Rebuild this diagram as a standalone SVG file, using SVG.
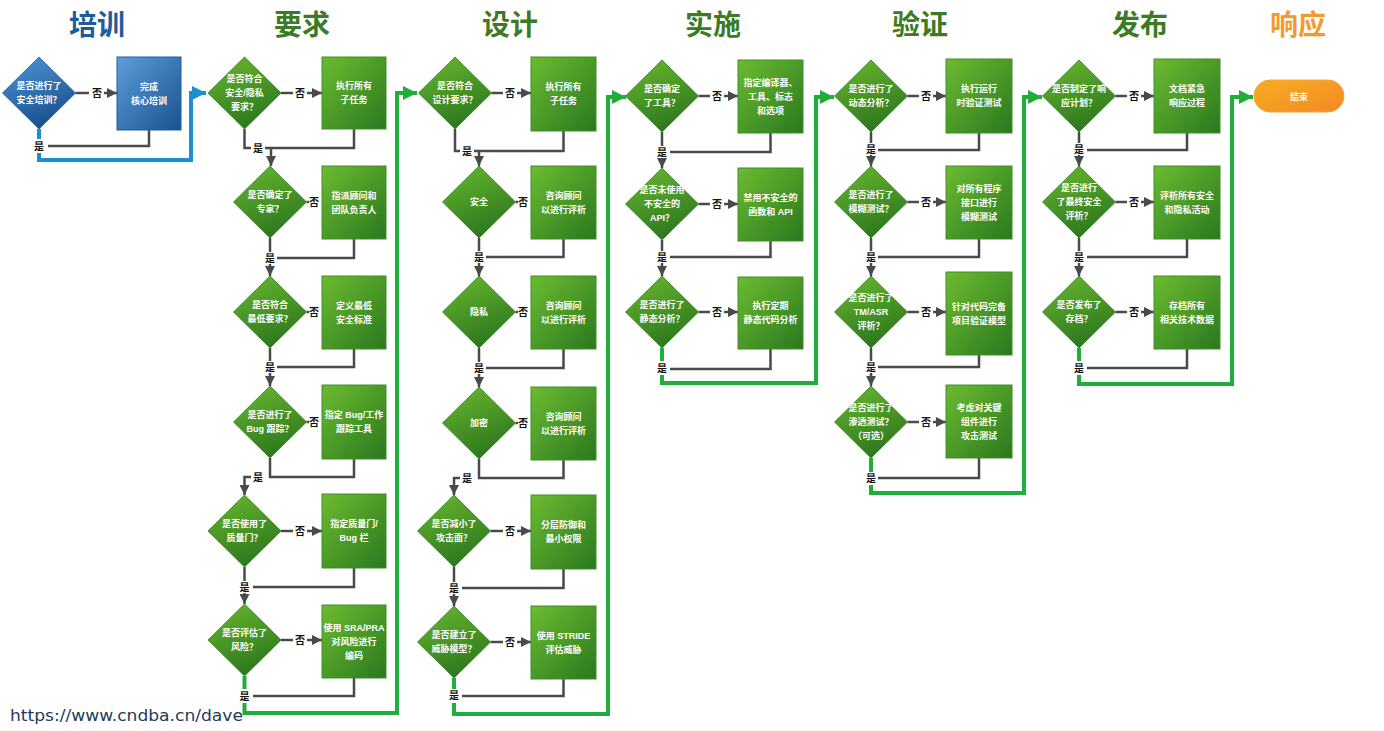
<svg xmlns="http://www.w3.org/2000/svg" width="1384" height="731" viewBox="0 0 1384 731">
<defs>
<linearGradient id="gBox" x1="0" y1="0" x2="1" y2="1"><stop offset="0" stop-color="#6cbb30"/><stop offset="1" stop-color="#2a781e"/></linearGradient>
<linearGradient id="gDia" x1="0.2" y1="0" x2="0.6" y2="1"><stop offset="0" stop-color="#66b52e"/><stop offset="1" stop-color="#2b751d"/></linearGradient>
<linearGradient id="bBox" x1="0" y1="0" x2="1" y2="1"><stop offset="0" stop-color="#5d9edb"/><stop offset="1" stop-color="#18528f"/></linearGradient>
<linearGradient id="bDia" x1="0.2" y1="0" x2="0.6" y2="1"><stop offset="0" stop-color="#4d93d4"/><stop offset="1" stop-color="#164d8a"/></linearGradient>
<linearGradient id="oPill" x1="0" y1="0" x2="1" y2="1"><stop offset="0" stop-color="#f9ad22"/><stop offset="1" stop-color="#f08a22"/></linearGradient>
<marker id="aGray" markerUnits="userSpaceOnUse" markerWidth="10" markerHeight="10" viewBox="0 0 10 10" refX="10" refY="5" orient="auto"><path d="M0,0 L10,5 L0,10 Z" fill="#4a4a4a"/></marker>
<marker id="aGreen" markerUnits="userSpaceOnUse" markerWidth="14" markerHeight="14" viewBox="0 0 10 10" refX="10" refY="5" orient="auto"><path d="M0,0 L10,5 L0,10 Z" fill="#1fae3c"/></marker>
<marker id="aBlue" markerUnits="userSpaceOnUse" markerWidth="14" markerHeight="14" viewBox="0 0 10 10" refX="10" refY="5" orient="auto"><path d="M0,0 L10,5 L0,10 Z" fill="#1b8fd0"/></marker>
</defs>
<style>
.title{font-family:'Noto Sans CJK SC','Liberation Sans',sans-serif;font-size:28px;font-weight:bold;text-anchor:middle}
.tb{fill:#1e5c9c}.tg{fill:#3c7b24}.to{fill:#f39a2b}
.dia{fill:url(#gDia);stroke:#2f7d22;stroke-width:0.8}
.box{fill:url(#gBox);stroke:#3f8f28;stroke-width:1}
.bdia{fill:url(#bDia);stroke:#1b5a98;stroke-width:0.8}
.bbox{fill:url(#bBox);stroke:#1f5f9f;stroke-width:1}
.nt{font-family:'Liberation Sans','Noto Sans CJK SC',sans-serif;font-size:9px;font-weight:bold;fill:#ffffff;text-anchor:middle}
.lb{font-family:'Noto Sans CJK SC','Liberation Sans',sans-serif;font-size:10px;font-weight:bold;fill:#111111;text-anchor:middle}
.ln{fill:none;stroke:#4a4a4a;stroke-width:2.5}
.ar{fill:none;stroke:#4a4a4a;stroke-width:2.5;marker-end:url(#aGray)}
.gl{fill:none;stroke:#1fae3c;stroke-width:4}
.ga{fill:none;stroke:#1fae3c;stroke-width:4;marker-end:url(#aGreen)}
.bl{fill:none;stroke:#1b8fd0;stroke-width:4}
.ba{fill:none;stroke:#1b8fd0;stroke-width:4;marker-end:url(#aBlue)}
</style>
<rect width="1384" height="731" fill="#ffffff"/>

<g id="titles">
<text class="title tb" x="97" y="35">培训</text>
<text class="title tg" x="302" y="35">要求</text>
<text class="title tg" x="510" y="35">设计</text>
<text class="title tg" x="713" y="35">实施</text>
<text class="title tg" x="920" y="35">验证</text>
<text class="title tg" x="1140" y="35">发布</text>
<text class="title to" x="1298" y="35">响应</text>
</g>

<g id="connectors">
<!-- training -->
<path class="ln" d="M75.5 93 H89"/><text class="lb" x="97" y="96.5">否</text><path class="ar" d="M104 93 H117"/>
<path class="ln" d="M149 130 V146 H48"/><text class="lb" x="39" y="149.5">是</text>
<path class="bl" d="M39 129 V139"/><path class="ba" d="M39 153 V160 H191 V93 H206"/>
<!-- requirements -->
<path class="ln" d="M281 93 H293"/><text class="lb" x="300" y="96.5">否</text><path class="ar" d="M307 93 H322"/>
<path class="ln" d="M244.5 129 V148 H251"/><text class="lb" x="258" y="151.5">是</text><path class="ln" d="M265 148 H354 V129"/><path class="ar" d="M271 148 V166"/>
<path class="ln" d="M306.5 202 H309"/><text class="lb" x="314" y="205.5">否</text>
<path class="ln" d="M270 238 V252"/><text class="lb" x="270" y="261.5">是</text><path class="ar" d="M270 264 V276"/><path class="ln" d="M277 258 H354 V239"/>
<path class="ln" d="M306.5 312 H309"/><text class="lb" x="314" y="315.5">否</text>
<path class="ln" d="M270 348 V361"/><text class="lb" x="270" y="370.5">是</text><path class="ar" d="M270 373 V386"/><path class="ln" d="M277 367 H354 V349"/>
<path class="ln" d="M306.5 422 H309"/><text class="lb" x="314" y="425.5">否</text>
<path class="ln" d="M270 458 V477 H354 V459"/><text class="lb" x="258" y="480.5">是</text><path class="ar" d="M251 477 H244.5 V495"/>
<path class="ln" d="M281 531 H293"/><text class="lb" x="300" y="534.5">否</text><path class="ar" d="M307 531 H322"/>
<path class="ln" d="M244.5 567 V581"/><text class="lb" x="244.5" y="590.5">是</text><path class="ar" d="M244.5 593 V604"/><path class="ln" d="M253 587 H354 V568"/>
<path class="ln" d="M281 640 H293"/><text class="lb" x="300" y="643.5">否</text><path class="ar" d="M307 640 H322"/>
<text class="lb" x="244.5" y="699.5">是</text><path class="ln" d="M253 696 H354 V678"/>
<path class="gl" d="M244.5 676 V689"/><path class="ga" d="M244.5 703 V713 H397 V93 H417"/>
<!-- design -->
<path class="ln" d="M491.5 93 H503"/><text class="lb" x="510" y="96.5">否</text><path class="ar" d="M517 93 H531"/>
<path class="ln" d="M455 129 V151 H460"/><text class="lb" x="467" y="154.5">是</text><path class="ln" d="M474 151 H563.5 V131"/><path class="ar" d="M479 151 V166"/>
<path class="ln" d="M515.5 202 H518"/><text class="lb" x="523" y="205.5">否</text>
<path class="ln" d="M479 238 V251"/><text class="lb" x="479" y="260.5">是</text><path class="ar" d="M479 263 V276"/><path class="ln" d="M486 257 H563.5 V239"/>
<path class="ln" d="M515.5 312 H518"/><text class="lb" x="523" y="315.5">否</text>
<path class="ln" d="M479 348 V362"/><text class="lb" x="479" y="371.5">是</text><path class="ar" d="M479 374 V387"/><path class="ln" d="M486 368 H563.5 V349"/>
<path class="ln" d="M515.5 423 H518"/><text class="lb" x="523" y="426.5">否</text>
<path class="ln" d="M479 459 V478 H563.5 V460"/><text class="lb" x="467" y="481.5">是</text><path class="ar" d="M460 478 H454 V495"/>
<path class="ln" d="M490.5 531 H503"/><text class="lb" x="510" y="534.5">否</text><path class="ar" d="M517 531 H531"/>
<path class="ln" d="M454 567 V582"/><text class="lb" x="454" y="591.5">是</text><path class="ar" d="M454 594 V606"/><path class="ln" d="M462 588 H563.5 V569"/>
<path class="ln" d="M490.5 642 H503"/><text class="lb" x="510" y="645.5">否</text><path class="ar" d="M517 642 H531"/>
<text class="lb" x="454" y="698.5">是</text><path class="ln" d="M462 696 H563.5 V679"/>
<path class="gl" d="M454 678 V689"/><path class="ga" d="M454 703 V714 H608 V97 H626"/>
<!-- implementation -->
<path class="ln" d="M698.5 96 H710"/><text class="lb" x="717" y="99.5">否</text><path class="ar" d="M724 96 H738"/>
<path class="ln" d="M662 132 V146"/><text class="lb" x="662" y="155.5">是</text><path class="ar" d="M662 158 V168"/><path class="ln" d="M670 152 H770.5 V133"/>
<path class="ln" d="M698.5 204 H710"/><text class="lb" x="717" y="207.5">否</text><path class="ar" d="M724 204 H738"/>
<path class="ln" d="M662 240 V251"/><text class="lb" x="662" y="260.5">是</text><path class="ar" d="M662 263 V276"/><path class="ln" d="M670 257 H770.5 V241"/>
<path class="ln" d="M698.5 312 H710"/><text class="lb" x="717" y="315.5">否</text><path class="ar" d="M724 312 H738"/>
<text class="lb" x="662" y="371.5">是</text><path class="ln" d="M670 369 H770.5 V349"/>
<path class="gl" d="M662 348 V361"/><path class="ga" d="M662 375 V383 H816 V97 H834"/>
<!-- verification -->
<path class="ln" d="M907.5 96 H919"/><text class="lb" x="926" y="99.5">否</text><path class="ar" d="M933 96 H946"/>
<path class="ln" d="M871 132 V143"/><text class="lb" x="871" y="152.5">是</text><path class="ar" d="M871 155 V166"/><path class="ln" d="M878 150 H979 V133"/>
<path class="ln" d="M907.5 202 H919"/><text class="lb" x="926" y="205.5">否</text><path class="ar" d="M933 202 H946"/>
<path class="ln" d="M871 238 V251"/><text class="lb" x="871" y="260.5">是</text><path class="ar" d="M871 263 V276"/><path class="ln" d="M878 257 H979 V239"/>
<path class="ln" d="M907.5 312 H919"/><text class="lb" x="926" y="315.5">否</text><path class="ar" d="M933 312 H946"/>
<path class="ln" d="M871 348 V361"/><text class="lb" x="871" y="370.5">是</text><path class="ar" d="M871 373 V386"/><path class="ln" d="M878 367 H979 V355"/>
<path class="ln" d="M907.5 422 H919"/><text class="lb" x="926" y="425.5">否</text><path class="ar" d="M933 422 H946"/>
<text class="lb" x="871" y="481.5">是</text><path class="ln" d="M878 478 H979 V458"/>
<path class="gl" d="M871 458 V472"/><path class="ga" d="M871 485 V493 H1024 V97 H1042"/>
<!-- release -->
<path class="ln" d="M1115.5 96 H1127"/><text class="lb" x="1134" y="99.5">否</text><path class="ar" d="M1141 96 H1154"/>
<path class="ln" d="M1079 132 V143"/><text class="lb" x="1079" y="152.5">是</text><path class="ar" d="M1079 155 V166"/><path class="ln" d="M1087 150 H1187 V133"/>
<path class="ln" d="M1115.5 202 H1127"/><text class="lb" x="1134" y="205.5">否</text><path class="ar" d="M1141 202 H1154"/>
<path class="ln" d="M1079 238 V251"/><text class="lb" x="1079" y="260.5">是</text><path class="ar" d="M1079 263 V276"/><path class="ln" d="M1087 257 H1187 V239"/>
<path class="ln" d="M1115.5 312 H1127"/><text class="lb" x="1134" y="315.5">否</text><path class="ar" d="M1141 312 H1154"/>
<text class="lb" x="1079" y="371.5">是</text><path class="ln" d="M1087 368 H1187 V349"/>
<path class="gl" d="M1079 348 V361"/><path class="ga" d="M1079 375 V384 H1232 V97 H1253"/>
</g>

<!-- training -->
<g id="train-q"><polygon class="bdia" points="39,57 75.5,93 39,129 2.5,93"/><text class="nt" x="39" y="89">是否进行了</text><text class="nt" x="39" y="103">安全培训？</text></g>
<g id="train-do"><rect class="bbox" x="117" y="57" width="64" height="73"/><text class="nt" x="149" y="89.5">完成</text><text class="nt" x="149" y="103.5">核心培训</text></g>

<!-- requirements -->
<g id="req-q1"><polygon class="dia" points="244.5,57 281,93 244.5,129 208,93"/><text class="nt" x="244.5" y="82">是否符合</text><text class="nt" x="244.5" y="96">安全/隐私</text><text class="nt" x="244.5" y="110">要求？</text></g>
<g id="req-a1"><rect class="box" x="322" y="57" width="64" height="72"/><text class="nt" x="354" y="89">执行所有</text><text class="nt" x="354" y="103">子任务</text></g>
<g id="req-q2"><polygon class="dia" points="270,166 306.5,202 270,238 233.5,202"/><text class="nt" x="270" y="198">是否确定了</text><text class="nt" x="270" y="212">专家？</text></g>
<g id="req-a2"><rect class="box" x="322" y="166" width="64" height="73"/><text class="nt" x="354" y="198.5">指派顾问和</text><text class="nt" x="354" y="212.5">团队负责人</text></g>
<g id="req-q3"><polygon class="dia" points="270,276 306.5,312 270,348 233.5,312"/><text class="nt" x="270" y="308">是否符合</text><text class="nt" x="270" y="322">最低要求？</text></g>
<g id="req-a3"><rect class="box" x="322" y="276" width="64" height="73"/><text class="nt" x="354" y="308.5">定义最低</text><text class="nt" x="354" y="322.5">安全标准</text></g>
<g id="req-q4"><polygon class="dia" points="270,386 306.5,422 270,458 233.5,422"/><text class="nt" x="270" y="418">是否进行了</text><text class="nt" x="270" y="432">Bug 跟踪？</text></g>
<g id="req-a4"><rect class="box" x="322" y="385" width="64" height="74"/><text class="nt" x="354" y="418">指定 Bug/工作</text><text class="nt" x="354" y="432">跟踪工具</text></g>
<g id="req-q5"><polygon class="dia" points="244.5,495 281,531 244.5,567 208,531"/><text class="nt" x="244.5" y="527">是否使用了</text><text class="nt" x="244.5" y="541">质量门？</text></g>
<g id="req-a5"><rect class="box" x="322" y="494" width="64" height="74"/><text class="nt" x="354" y="527">指定质量门/</text><text class="nt" x="354" y="541">Bug 栏</text></g>
<g id="req-q6"><polygon class="dia" points="244.5,604 281,640 244.5,676 208,640"/><text class="nt" x="244.5" y="636">是否评估了</text><text class="nt" x="244.5" y="650">风险？</text></g>
<g id="req-a6"><rect class="box" x="322" y="605" width="64" height="73"/><text class="nt" x="354" y="630.5">使用 SRA/PRA</text><text class="nt" x="354" y="644.5">对风险进行</text><text class="nt" x="354" y="658.5">编码</text></g>

<!-- design -->
<g id="des-q1"><polygon class="dia" points="455,57 491.5,93 455,129 418.5,93"/><text class="nt" x="455" y="89">是否符合</text><text class="nt" x="455" y="103">设计要求？</text></g>
<g id="des-a1"><rect class="box" x="531" y="57" width="65" height="74"/><text class="nt" x="563.5" y="90">执行所有</text><text class="nt" x="563.5" y="104">子任务</text></g>
<g id="des-q2"><polygon class="dia" points="479,166 515.5,202 479,238 442.5,202"/><text class="nt" x="479" y="205">安全</text></g>
<g id="des-a2"><rect class="box" x="531" y="166" width="65" height="73"/><text class="nt" x="563.5" y="198.5">咨询顾问</text><text class="nt" x="563.5" y="212.5">以进行评析</text></g>
<g id="des-q3"><polygon class="dia" points="479,276 515.5,312 479,348 442.5,312"/><text class="nt" x="479" y="315">隐私</text></g>
<g id="des-a3"><rect class="box" x="531" y="276" width="65" height="73"/><text class="nt" x="563.5" y="308.5">咨询顾问</text><text class="nt" x="563.5" y="322.5">以进行评析</text></g>
<g id="des-q4"><polygon class="dia" points="479,387 515.5,423 479,459 442.5,423"/><text class="nt" x="479" y="426">加密</text></g>
<g id="des-a4"><rect class="box" x="531" y="387" width="65" height="73"/><text class="nt" x="563.5" y="419.5">咨询顾问</text><text class="nt" x="563.5" y="433.5">以进行评析</text></g>
<g id="des-q5"><polygon class="dia" points="454,495 490.5,531 454,567 417.5,531"/><text class="nt" x="454" y="527">是否减小了</text><text class="nt" x="454" y="541">攻击面？</text></g>
<g id="des-a5"><rect class="box" x="531" y="495" width="65" height="74"/><text class="nt" x="563.5" y="528">分层防御和</text><text class="nt" x="563.5" y="542">最小权限</text></g>
<g id="des-q6"><polygon class="dia" points="454,606 490.5,642 454,678 417.5,642"/><text class="nt" x="454" y="638">是否建立了</text><text class="nt" x="454" y="652">威胁模型？</text></g>
<g id="des-a6"><rect class="box" x="531" y="606" width="65" height="73"/><text class="nt" x="563.5" y="638.5">使用 STRIDE</text><text class="nt" x="563.5" y="652.5">评估威胁</text></g>

<!-- implementation -->
<g id="imp-q1"><polygon class="dia" points="662,60 698.5,96 662,132 625.5,96"/><text class="nt" x="662" y="92">是否确定</text><text class="nt" x="662" y="106">了工具？</text></g>
<g id="imp-a1"><rect class="box" x="738" y="60" width="65" height="73"/><text class="nt" x="770.5" y="85.5">指定编译器、</text><text class="nt" x="770.5" y="99.5">工具、标志</text><text class="nt" x="770.5" y="113.5">和选项</text></g>
<g id="imp-q2"><polygon class="dia" points="662,168 698.5,204 662,240 625.5,204"/><text class="nt" x="662" y="193">是否未使用</text><text class="nt" x="662" y="207">不安全的</text><text class="nt" x="662" y="221">API？</text></g>
<g id="imp-a2"><rect class="box" x="738" y="168" width="65" height="73"/><text class="nt" x="770.5" y="200.5">禁用不安全的</text><text class="nt" x="770.5" y="214.5">函数和 API</text></g>
<g id="imp-q3"><polygon class="dia" points="662,276 698.5,312 662,348 625.5,312"/><text class="nt" x="662" y="308">是否进行了</text><text class="nt" x="662" y="322">静态分析？</text></g>
<g id="imp-a3"><rect class="box" x="738" y="277" width="65" height="72"/><text class="nt" x="770.5" y="309">执行定期</text><text class="nt" x="770.5" y="323">静态代码分析</text></g>

<!-- verification -->
<g id="ver-q1"><polygon class="dia" points="871,60 907.5,96 871,132 834.5,96"/><text class="nt" x="871" y="92">是否进行了</text><text class="nt" x="871" y="106">动态分析？</text></g>
<g id="ver-a1"><rect class="box" x="946" y="59" width="66" height="74"/><text class="nt" x="979" y="92">执行运行</text><text class="nt" x="979" y="106">时验证测试</text></g>
<g id="ver-q2"><polygon class="dia" points="871,166 907.5,202 871,238 834.5,202"/><text class="nt" x="871" y="198">是否进行了</text><text class="nt" x="871" y="212">模糊测试？</text></g>
<g id="ver-a2"><rect class="box" x="946" y="166" width="66" height="73"/><text class="nt" x="979" y="191.5">对所有程序</text><text class="nt" x="979" y="205.5">接口进行</text><text class="nt" x="979" y="219.5">模糊测试</text></g>
<g id="ver-q3"><polygon class="dia" points="871,276 907.5,312 871,348 834.5,312"/><text class="nt" x="871" y="301">是否进行了</text><text class="nt" x="871" y="315">TM/ASR</text><text class="nt" x="871" y="329">评析？</text></g>
<g id="ver-a3"><rect class="box" x="946" y="272" width="66" height="83"/><text class="nt" x="979" y="309.5">针对代码完备</text><text class="nt" x="979" y="323.5">项目验证模型</text></g>
<g id="ver-q4"><polygon class="dia" points="871,386 907.5,422 871,458 834.5,422"/><text class="nt" x="871" y="411">是否进行了</text><text class="nt" x="871" y="425">渗透测试？</text><text class="nt" x="871" y="439">（可选）</text></g>
<g id="ver-a4"><rect class="box" x="946" y="385" width="66" height="73"/><text class="nt" x="979" y="410.5">考虑对关键</text><text class="nt" x="979" y="424.5">组件进行</text><text class="nt" x="979" y="438.5">攻击测试</text></g>

<!-- release -->
<g id="rel-q1"><polygon class="dia" points="1079,60 1115.5,96 1079,132 1042.5,96"/><text class="nt" x="1079" y="92">是否制定了响</text><text class="nt" x="1079" y="106">应计划？</text></g>
<g id="rel-a1"><rect class="box" x="1154" y="59" width="66" height="74"/><text class="nt" x="1187" y="92">文档紧急</text><text class="nt" x="1187" y="106">响应过程</text></g>
<g id="rel-q2"><polygon class="dia" points="1079,166 1115.5,202 1079,238 1042.5,202"/><text class="nt" x="1079" y="191">是否进行</text><text class="nt" x="1079" y="205">了最终安全</text><text class="nt" x="1079" y="219">评析？</text></g>
<g id="rel-a2"><rect class="box" x="1154" y="166" width="66" height="73"/><text class="nt" x="1187" y="198.5">评析所有安全</text><text class="nt" x="1187" y="212.5">和隐私活动</text></g>
<g id="rel-q3"><polygon class="dia" points="1079,276 1115.5,312 1079,348 1042.5,312"/><text class="nt" x="1079" y="308">是否发布了</text><text class="nt" x="1079" y="322">存档？</text></g>
<g id="rel-a3"><rect class="box" x="1154" y="276" width="66" height="73"/><text class="nt" x="1187" y="308.5">存档所有</text><text class="nt" x="1187" y="322.5">相关技术数据</text></g>

<!-- response -->
<g id="end"><rect x="1254" y="80" width="90" height="32" rx="16" fill="url(#oPill)" stroke="#f5a33a" stroke-width="1"/><text class="nt" x="1299" y="100">结束</text></g>

<text x="10" y="721" font-family="'DejaVu Sans',sans-serif" font-size="16" fill="#1c3b5a" textLength="233" lengthAdjust="spacingAndGlyphs">https://www.cndba.cn/dave</text>
</svg>
